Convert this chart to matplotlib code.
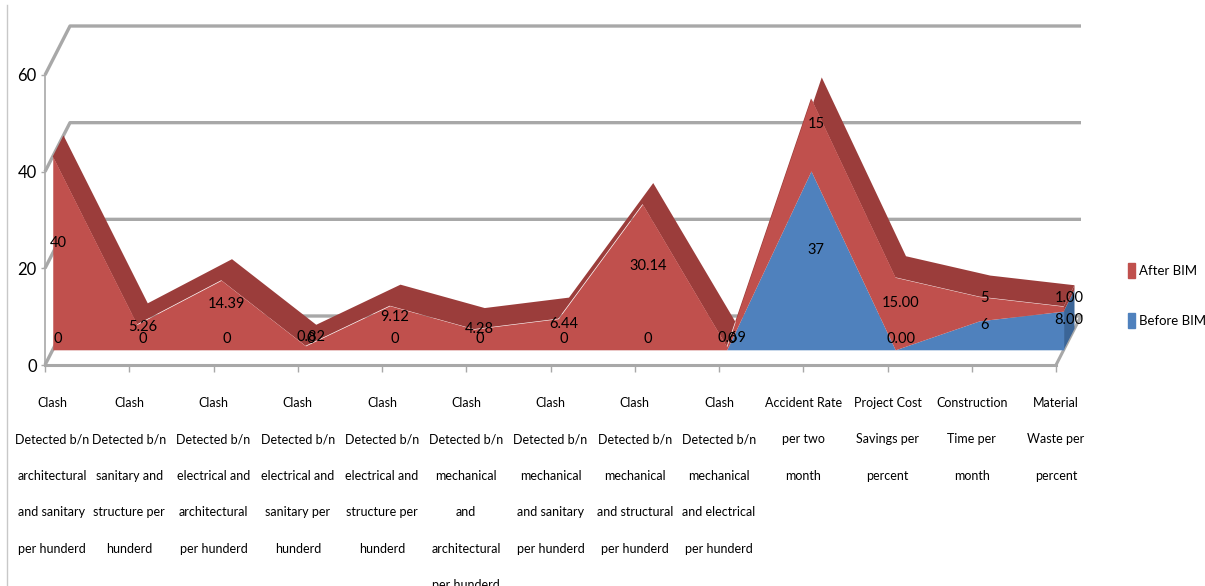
import numpy as np
import matplotlib
matplotlib.use("Agg")
import matplotlib.pyplot as plt
from matplotlib.patches import Patch
from matplotlib.lines import Line2D
from matplotlib.transforms import ScaledTranslation

plt.rcParams['font.family'] = ['Lato', 'DejaVu Sans']

# ---- data ----
categories = [
    "Clash\nDetected b/n\narchitectural\nand sanitary\nper hunderd",
    "Clash\nDetected b/n\nsanitary and\nstructure per\nhunderd",
    "Clash\nDetected b/n\nelectrical and\narchitectural\nper hunderd",
    "Clash\nDetected b/n\nelectrical and\nsanitary per\nhunderd",
    "Clash\nDetected b/n\nelectrical and\nstructure per\nhunderd",
    "Clash\nDetected b/n\nmechanical\nand\narchitectural\nper hunderd",
    "Clash\nDetected b/n\nmechanical\nand sanitary\nper hunderd",
    "Clash\nDetected b/n\nmechanical\nand structural\nper hunderd",
    "Clash\nDetected b/n\nmechanical\nand electrical\nper hunderd",
    "Accident Rate\nper two\nmonth",
    "Project Cost\nSavings per\npercent",
    "Construction\nTime per\nmonth",
    "Material\nWaste per\npercent",
]
after_bim = [40, 5.26, 14.39, 0.82, 9.12, 4.28, 6.44, 30.14, 0.69, 15, 15.00, 5, 1.00]
before_bim = [0, 0, 0, 0, 0, 0, 0, 0, 0, 37, 0.00, 6, 8.00]
after_text = ["40", "5.26", "14.39", "0.82", "9.12", "4.28", "6.44", "30.14",
              "0.69", "15", "15.00", "5", "1.00"]
before_text = ["0", "0", "0", "0", "0", "0", "0", "0", "0", "37", "0.00", "6", "8.00"]
yticks = [0, 20, 40, 60]

# ---- layout (pixels) ----
W, H = 1205, 586
px_cat = 84.25          # pixels per category
px_val = 290 / 60       # pixels per unit
x0_px, y0_px = 45, H - 365
DX, DY = 25 / px_cat, 49 / px_val   # full depth of the 3d box
f1, f2 = 0.31, 0.74                 # front / back depth of the area
fm = (f1 + f2) / 2

red, red_dark = '#C0504D', '#9B3D3B'
blue, blue_dark = '#4F81BD', '#3B6597'
grid_c = '#A8A8A8'

fig = plt.figure(figsize=(W / 100, H / 100), dpi=100)
ax = fig.add_axes([0, 0, 1, 1])
ax.set_xlim(-x0_px / px_cat, (W - x0_px) / px_cat)
ax.set_ylim(-y0_px / px_val, (H - y0_px) / px_val)
ax.patch.set_visible(False)

xs = np.arange(len(categories))
n = xs[-1]
before = np.array(before_bim, dtype=float)
total = before + np.array(after_bim, dtype=float)

# back wall + left wall gridlines
for v in yticks:
    ax.plot([0, DX, n + DX], [v, v + DY, v + DY], color=grid_c, lw=2.4, zorder=1,
            solid_capstyle='butt')
# right floor edge
ax.plot([n, n + DX], [0, DY], color=grid_c, lw=2.2, zorder=1)

# top surface of stacked area
bx = np.concatenate([xs + f1 * DX, (xs + f2 * DX)[::-1]])
by = np.concatenate([total + f1 * DY, (total + f2 * DY)[::-1]])
ax.fill(bx, by, color=red_dark, lw=0, zorder=2)

# right end faces
xr = [n + f1 * DX, n + f1 * DX, n + f2 * DX, n + f2 * DX]
ax.fill(xr, [f1 * DY, before[-1] + f1 * DY, before[-1] + f2 * DY, f2 * DY],
        color=blue_dark, lw=0, zorder=2)
ax.fill(xr, [before[-1] + f1 * DY, total[-1] + f1 * DY, total[-1] + f2 * DY, before[-1] + f2 * DY],
        color=red_dark, lw=0, zorder=2)

# front faces
ax.fill_between(xs + f1 * DX, f1 * DY, before + f1 * DY, color=blue, lw=0, zorder=3)
ax.fill_between(xs + f1 * DX, before + f1 * DY, total + f1 * DY, color=red, lw=0, zorder=3)

# data labels
for i in xs:
    ax.text(i + fm * DX, before[i] / 2 + fm * DY, before_text[i],
            ha='center', va='center', fontsize=10.5, zorder=5)
    ax.text(i + fm * DX, before[i] + after_bim[i] / 2 + fm * DY, after_text[i],
            ha='center', va='center', fontsize=10.5, zorder=5)

# axes
for s in ['top', 'right']:
    ax.spines[s].set_visible(False)
ax.spines['left'].set_position(('data', 0))
ax.spines['left'].set_bounds(yticks[0], yticks[-1])
ax.spines['left'].set_color(grid_c)
ax.spines['left'].set_linewidth(1.2)
ax.spines['bottom'].set_position(('data', 0))
ax.spines['bottom'].set_bounds(0, n)
ax.spines['bottom'].set_color(grid_c)
ax.spines['bottom'].set_linewidth(2.2)

ax.set_yticks(yticks)
ax.set_yticklabels([str(v) for v in yticks], fontsize=12)
ax.tick_params(axis='y', length=3, width=1, color=grid_c, pad=3)
ax.set_xticks(xs)
ax.set_xticklabels(categories, fontsize=9, linespacing=3.44)
ax.tick_params(axis='x', length=5, width=1, color=grid_c, pad=18)
# first label sits a little right of its tick, as in the original
first = ax.get_xticklabels()[0]
first.set_transform(first.get_transform() + ScaledTranslation(0.07, 0, fig.dpi_scale_trans))

handles = [Patch(color=red, label='After BIM'), Patch(color=blue, label='Before BIM')]
fig.legend(handles=handles, loc='center left', bbox_to_anchor=(1128 / W, 1 - 295.5 / H),
           frameon=False, handlelength=0.5, handleheight=1.4, handletextpad=0.3,
           labelspacing=2.6, fontsize=9.5, borderpad=0, borderaxespad=0)

fig.add_artist(Line2D([7 / W, 7 / W], [0, 1 - 5 / H], transform=fig.transFigure,
                      color='#C8C8C8', lw=1))

fig.savefig('out.png', dpi=100)
